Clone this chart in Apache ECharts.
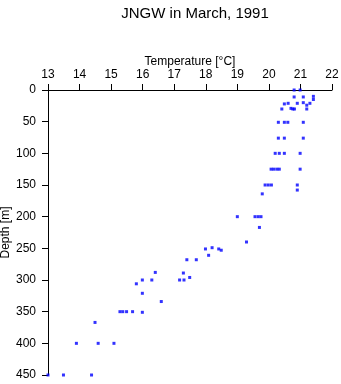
<!DOCTYPE html>
<html>
<head>
<meta charset="utf-8">
<script src="https://cdn.jsdelivr.net/npm/echarts@6/dist/echarts.min.js"></script>
<style>
html,body{margin:0;padding:0;background:#fff;}
#c{width:341px;height:384px;}
</style>
</head>
<body>
<div id="c"></div>
<script>
// Temperature [°C] readings
var temperature = [
  20.80, 20.99,
  20.80, 21.09, 21.41, 21.41,
  20.49, 20.61, 20.90, 21.09, 21.20, 21.30,
  20.70, 20.41, 20.76, 20.81, 21.20,
  20.30, 20.49, 20.60, 21.09,
  20.30, 20.49, 21.09,
  20.20, 20.33, 20.49, 20.99,
  20.07, 20.15, 20.25, 20.33, 20.99,
  19.88, 19.98, 20.08, 20.90,
  20.90, 19.79,
  19.00, 19.56, 19.66, 19.75,
  19.70, 19.29,
  17.99, 18.20, 18.41, 18.49,
  18.09,
  17.40, 17.70,
  17.29, 17.49, 16.40,
  17.17, 17.31, 16.29, 15.99,
  15.80, 15.99, 16.59,
  15.28, 15.37, 15.49, 15.68, 15.99,
  14.49,
  13.90, 14.59, 15.09,
  13.00, 13.49, 14.38
];
// Depth [m] readings
var depth = [
  0, 0,
  11, 11, 10, 15,
  22, 21, 21, 20, 24, 21,
  29, 30, 30, 30, 30,
  51, 51, 51, 51,
  76, 76, 76,
  100, 100, 100, 100,
  125, 125, 125, 125, 125,
  150, 150, 150, 150,
  158, 164,
  200, 200, 200, 200,
  217, 240,
  251, 249, 251, 253,
  261,
  268, 268,
  289, 296, 288,
  300, 300, 300, 300,
  306, 321, 334,
  350, 350, 350, 350, 351,
  367,
  400, 400, 400,
  450, 450, 450
];
var xTicks = [13, 14, 15, 16, 17, 18, 19, 20, 21, 22];
var yTicks = [0, 50, 100, 150, 200, 250, 300, 350, 400, 450];

var pts = temperature.map(function (t, i) { return [t, depth[i]]; });
var FONT = '"Liberation Sans", Arial, Helvetica, sans-serif';

var chart = echarts.init(document.getElementById('c'), null, {renderer: 'canvas'});
chart.setOption({
  animation: false,
  backgroundColor: '#fff',
  title: {
    text: 'JNGW in March, 1991',
    left: 190, top: 1, textAlign: 'center',
    textStyle: {fontFamily: FONT, fontSize: 15, fontWeight: 'normal', color: '#000'}
  },
  grid: {left: 48, right: 9, top: 90, bottom: 9, containLabel: false, outerBoundsMode: 'none'},
  xAxis: {
    type: 'value', position: 'top',
    min: xTicks[0], max: xTicks[xTicks.length - 1], interval: 1,
    name: 'Temperature [°C]', nameLocation: 'middle', nameGap: 22, nameMoveOverlap: false,
    nameTextStyle: {fontFamily: FONT, fontSize: 12, color: '#000'},
    axisLine: {show: true, lineStyle: {color: '#000', width: 1}},
    axisTick: {show: true, inside: false, length: 6, lineStyle: {color: '#000'}},
    axisLabel: {fontFamily: FONT, fontSize: 12, color: '#000', margin: 9},
    splitLine: {show: false}
  },
  yAxis: {
    type: 'value', inverse: true,
    min: yTicks[0], max: yTicks[yTicks.length - 1], interval: 50,
    name: 'Depth [m]', nameLocation: 'middle', nameGap: 36, nameMoveOverlap: false,
    nameTextStyle: {fontFamily: FONT, fontSize: 12, color: '#000'},
    axisLine: {show: true, lineStyle: {color: '#000', width: 1}},
    axisTick: {show: true, inside: false, length: 6, lineStyle: {color: '#000'}},
    axisLabel: {fontFamily: FONT, fontSize: 12, color: '#000', margin: 12},
    splitLine: {show: false}
  },
  series: [{
    type: 'scatter',
    data: pts,
    symbol: 'rect',
    symbolSize: 3,
    itemStyle: {color: '#0000ff'},
    clip: false
  }]
});
</script>
</body>
</html>
